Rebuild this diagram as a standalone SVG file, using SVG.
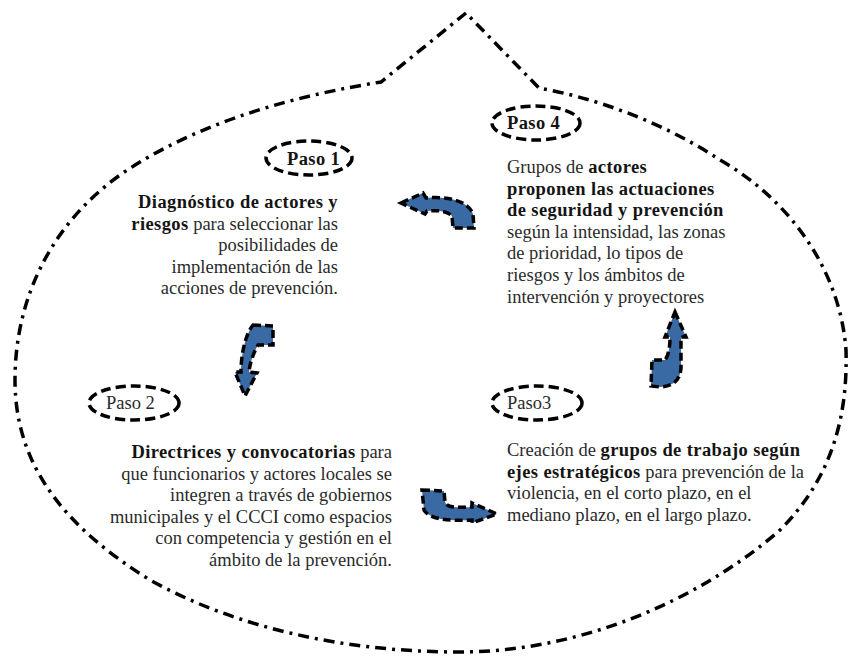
<svg xmlns="http://www.w3.org/2000/svg" width="848" height="664" viewBox="0 0 848 664">
<style>
.frame{fill:none;stroke:#000;stroke-width:3.5;stroke-dasharray:11 6 3 6}
.tag{fill:none;stroke:#000;stroke-width:3.5;stroke-dasharray:10 5}
.arr{fill:#3a6aa3;stroke:#000;stroke-width:3.5;stroke-dasharray:8 4;stroke-linejoin:miter}
text{font-size:18.5px;fill:#2a2a2a}
.b{font-weight:bold;fill:#141414;letter-spacing:0.4px}
.r{text-anchor:end}
</style>
<rect width="848" height="664" fill="#fff"/>
<path class="frame" d="M 466,13 L 381,82 C 300,95 200,120 120,175 C 50,225 15,300 15,380 C 15,470 70,530 150,580 C 240,630 350,652 460,652 C 580,652 700,600 780,530 C 830,480 848,420 846,350 C 840,270 790,200 720,160 C 660,120 590,97 539,88 Z"/>
<g font-family="Liberation Serif, DejaVu Serif, Noto Serif, Times New Roman, serif">
<g id="paso1">
<ellipse class="tag" cx="309" cy="158" rx="43" ry="17"/>
<text class="b" x="287" y="165">Paso 1</text>
<text class="r" x="338" y="208"><tspan class="b">Diagnóstico de actores y</tspan></text>
<text class="r" x="338" y="229.6"><tspan class="b">riesgos</tspan> para seleccionar las</text>
<text class="r" x="338" y="251.2">posibilidades de</text>
<text class="r" x="338" y="272.8">implementación de las</text>
<text class="r" x="338" y="294.4">acciones de prevención.</text>
</g>
<g id="paso4">
<ellipse class="tag" cx="536" cy="123" rx="44" ry="17"/>
<text class="b" x="507" y="129">Paso 4</text>
<text x="507" y="173">Grupos de <tspan class="b">actores</tspan></text>
<text class="b" x="507" y="194.6">proponen las actuaciones</text>
<text class="b" x="507" y="216.2">de seguridad y prevención</text>
<text x="507" y="237.8">según la intensidad, las zonas</text>
<text x="507" y="259.4">de prioridad, lo tipos de</text>
<text x="507" y="281">riesgos y los ámbitos de</text>
<text x="507" y="302.6">intervención y proyectores</text>
</g>
<g id="paso2">
<ellipse class="tag" cx="134" cy="403" rx="45" ry="17"/>
<text x="106" y="409">Paso 2</text>
<text class="r" x="392" y="458"><tspan class="b">Directrices y convocatorias</tspan> para</text>
<text class="r" x="392" y="479.6">que funcionarios y actores locales se</text>
<text class="r" x="392" y="501.2">integren a través de gobiernos</text>
<text class="r" x="392" y="522.8">municipales y el CCCI como espacios</text>
<text class="r" x="392" y="544.4">con competencia y gestión en el</text>
<text class="r" x="392" y="566">ámbito de la prevención.</text>
</g>
<g id="paso3">
<ellipse class="tag" cx="537" cy="403" rx="45" ry="17"/>
<text x="507" y="409">Paso3</text>
<text x="507" y="456">Creación de <tspan class="b">grupos de trabajo según</tspan></text>
<text x="507" y="477.6"><tspan class="b">ejes estratégicos</tspan> para prevención de la</text>
<text x="507" y="499.2">violencia, en el corto plazo, en el</text>
<text x="507" y="520.8">mediano plazo, en el largo plazo.</text>
</g>
</g>
<g id="connectors">
<path class="arr" d="M 401,203 L 423,193 L 426,198 C 445,196 468,200 473,214 L 474,228 L 453,228 L 452,216 C 448,211 438,210 427,211 L 425,214 Z"/>
<path class="arr" d="M 253,325 L 273,326 L 273,345 L 258,345 C 254,352 250,362 249,372 L 257,373 L 245,396 L 235,372 L 241,372 C 241,355 245,335 253,325 Z"/>
<path class="arr" d="M 422,490 L 444,491 L 445,502 C 447,507 452,508 472,507 L 472,503 L 497,514 L 472,523 L 472,520 C 450,521 430,520 424,510 Z"/>
<path class="arr" d="M 675,312 L 686,337 L 681,337 L 681,368 C 680,380 674,386 660,387 L 651,386 L 652,360 L 665,360 C 669,355 670,345 670,337 L 665,337 Z"/>
</g>
</svg>
